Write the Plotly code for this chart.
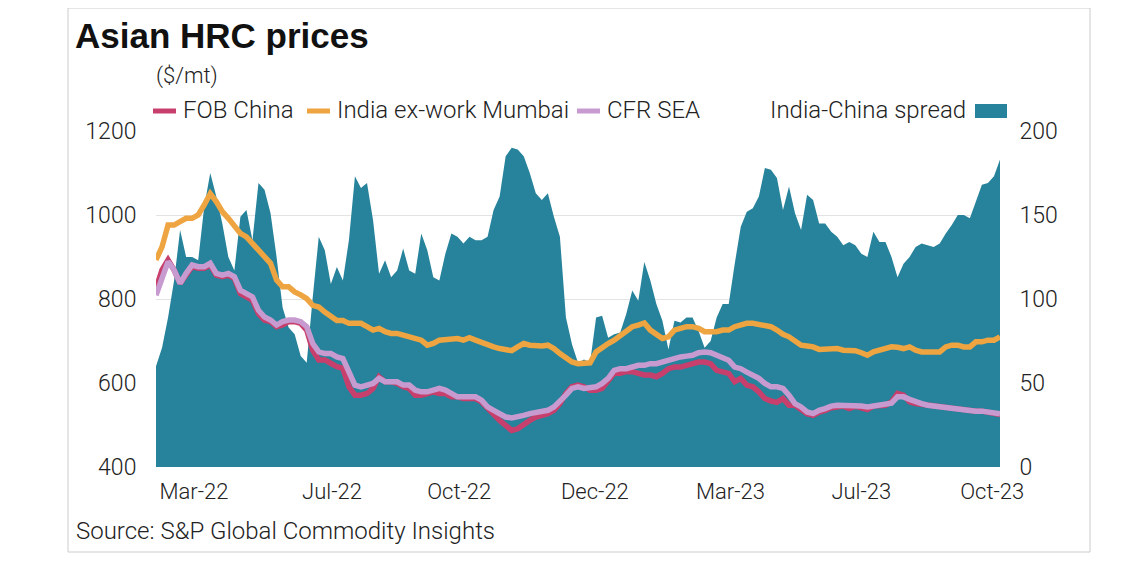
import plotly.graph_objects as go

# readings along the chart, one value every ~6 px (left: $/mt, right: spread)
fob_china = [
    825, 869, 893, 869, 837, 857, 877, 873, 873, 881, 857, 853, 857, 849, 813, 805, 797, 765, 750, 746, 734, 738, 746, 746,
    742, 726, 678, 655, 655, 647, 639, 635, 591, 571, 571, 575, 587, 615, 603, 603, 599, 591, 587, 571, 571, 575, 579, 575,
    575, 567, 567, 563, 563, 563, 555, 539, 523, 511, 499, 487, 491, 503, 511, 519, 523, 527, 535, 551, 575, 591, 595, 591,
    583, 583, 587, 603, 623, 623, 627, 627, 623, 619, 619, 615, 623, 634, 638, 638, 642, 646, 650, 650, 646, 630, 627, 623, 603,
    611, 595, 591, 579, 563, 557, 554, 563, 547, 547, 535, 527, 523, 531, 535, 541, 543, 545, 539, 545, 541, 537, 545, 547,
    547, 555, 575, 571, 555, 551, 549, 547, 545, 543, 541, 539, 537, 537, 535, 533, 533, 531, 529, 525,
]
india_mumbai = [
    893, 924, 976, 976, 984, 992, 992, 1000, 1024, 1051, 1032, 1008, 992, 972, 956, 948, 932, 920, 904, 885, 845, 829, 829, 817,
    810, 801, 785, 781, 769, 757, 749, 749, 742, 742, 742, 734, 726, 730, 722, 718, 718, 714, 710, 706, 702, 690, 694, 702,
    704, 704, 706, 702, 708, 702, 696, 690, 686, 682, 680, 677, 686, 694, 690, 688, 688, 690, 682, 670, 658, 650, 646, 648,
    648, 674, 686, 694, 702, 714, 722, 734, 738, 743, 726, 714, 706, 710, 726, 730, 734, 734, 730, 722, 722, 722, 726, 726, 734,
    738, 742, 742, 740, 738, 734, 726, 716, 710, 698, 690, 688, 686, 680, 680, 682, 682, 678, 677, 677, 672, 666, 674, 678,
    682, 686, 685, 682, 686, 678, 674, 674, 674, 674, 686, 690, 690, 686, 686, 698, 698, 702, 702, 710,
]
cfr_sea = [
    809, 853, 889, 869, 837, 861, 881, 877, 877, 885, 861, 857, 861, 853, 821, 813, 805, 773, 757, 750, 738, 746, 750, 750,
    746, 734, 694, 674, 670, 670, 662, 658, 623, 595, 591, 595, 599, 611, 603, 603, 603, 595, 595, 583, 579, 579, 583, 587,
    583, 575, 567, 567, 567, 567, 559, 543, 535, 527, 519, 517, 519, 523, 527, 529, 531, 535, 543, 555, 571, 587, 591, 587,
    589, 591, 599, 611, 630, 634, 634, 638, 642, 642, 646, 646, 650, 656, 658, 662, 664, 666, 672, 674, 672, 666, 662, 654, 638,
    634, 626, 618, 611, 599, 591, 591, 587, 571, 551, 543, 531, 527, 535, 539, 545, 547, 547, 547, 547, 545, 543, 545, 547,
    547, 552, 567, 567, 561, 555, 551, 547, 545, 543, 541, 539, 537, 537, 535, 533, 533, 531, 531, 527,
]
spread = [
    60, 71, 89, 111, 141, 125, 125, 123, 155, 175, 161, 145, 125, 117, 149, 153, 135, 169, 165, 151, 125, 95, 83, 79,
    66, 62, 101, 137, 129, 109, 119, 111, 135, 173, 166, 169, 147, 115, 123, 113, 117, 130, 117, 115, 139, 129, 113, 111,
    127, 139, 137, 133, 137, 135, 135, 137, 153, 161, 185, 190, 189, 185, 175, 163, 159, 163, 149, 137, 89, 73, 62, 64,
    62, 89, 90, 77, 79, 80, 91, 105, 99, 122, 111, 97, 87, 70, 87, 86, 89, 89, 81, 71, 75, 89, 97, 97, 121,
    143, 152, 154, 161, 178, 177, 172, 153, 167, 151, 141, 162, 159, 145, 145, 140, 137, 132, 134, 132, 127, 125, 140, 134,
    134, 125, 113, 121, 125, 131, 133, 132, 131, 133, 139, 144, 150, 150, 148, 158, 168, 169, 173, 183,
]
month_labels = ["Mar-22", "Jul-22", "Oct-22", "Dec-22", "Mar-23", "Jul-23", "Oct-23"]
label_pos = [6.3, 29.2, 50.3, 72.8, 95.3, 117, 138.7]

x = list(range(len(spread)))

TEAL = "#26839b"
RED = "#c7406d"
ORANGE = "#eea441"
PINK = "#c89bd0"
FONT = "Roboto"
TXT = "#222222"

# the page body adds an 8 px margin, so the figure is drawn 8 px smaller / shifted
OFF = 8
W, H = 1147 - 2 * OFF, 573 - 2 * OFF
# plot area in window pixels: x 156..1000, y 131..467
L, R, T, B = 156, 1000, 131, 467


def px(p):
    return (p - L) / (R - L)


def py(p):
    return (B - p) / (B - T)


fig = go.Figure()
fig.add_trace(go.Scatter(x=x, y=spread, name="India-China spread", yaxis="y",
                         fill="tozeroy", fillcolor=TEAL, mode="lines",
                         line=dict(width=0, color=TEAL)))
fig.add_trace(go.Scatter(x=x, y=fob_china, name="FOB China", mode="lines", yaxis="y2",
                         line=dict(color=RED, width=5.5)))
fig.add_trace(go.Scatter(x=x, y=cfr_sea, name="CFR SEA", mode="lines", yaxis="y2",
                         line=dict(color=PINK, width=5.5)))
fig.add_trace(go.Scatter(x=x, y=india_mumbai, name="India ex-work Mumbai", mode="lines", yaxis="y2",
                         line=dict(color=ORANGE, width=5.5)))

shapes = [
    # card border
    dict(type="rect", xref="paper", yref="paper", x0=px(68), x1=px(1090), y0=py(552), y1=py(8),
         line=dict(color="#cccccc", width=1), fillcolor="rgba(0,0,0,0)", layer="below"),
]
text_font = dict(family=FONT, size=24, color=TXT, weight=300)
annotations = [
    dict(text="<b>Asian HRC prices</b>", x=px(73), y=py(36), xanchor="left", yanchor="middle",
         font=dict(family="Liberation Sans", size=35, color="#111111")),
    dict(text="($/mt)", x=px(154), y=py(76), xanchor="left", yanchor="middle",
         font=dict(family=FONT, size=22, color=TXT, weight=300)),
    dict(text="Source: S&P Global Commodity Insights", x=px(74), y=py(531), xanchor="left", yanchor="middle",
         font=text_font),
]

legend_items = [("FOB China", RED, 153), ("India ex-work Mumbai", ORANGE, 307), ("CFR SEA", PINK, 577)]
for name, col, x0 in legend_items:
    shapes.append(dict(type="line", xref="paper", yref="paper", x0=px(x0), x1=px(x0 + 23),
                       y0=py(111), y1=py(111), line=dict(color=col, width=5)))
    annotations.append(dict(text=name, x=px(x0 + 28), y=py(110), xanchor="left", yanchor="middle",
                            font=text_font))
shapes.append(dict(type="rect", xref="paper", yref="paper", x0=px(975), x1=px(1007),
                   y0=py(118), y1=py(104), line=dict(width=0), fillcolor=TEAL))
annotations.append(dict(text="India-China spread", x=px(968), y=py(110), xanchor="right", yanchor="middle",
                        font=text_font))

for a in annotations:
    a.update(xref="paper", yref="paper", showarrow=False)

fig.update_layout(
    width=W, height=H,
    margin=dict(l=L - OFF, r=W - (R - OFF), t=T - OFF, b=H - (B - OFF), autoexpand=False),
    paper_bgcolor="white", plot_bgcolor="white",
    showlegend=False,
    font=dict(family=FONT, size=22, color=TXT),
    xaxis=dict(range=[0, len(spread) - 1], tickvals=label_pos, ticktext=month_labels,
               showgrid=False, zeroline=False, showline=False,
               ticks="outside", ticklen=5, tickcolor="rgba(0,0,0,0)",
               tickfont=dict(family=FONT, size=22, color=TXT, weight=300)),
    # spread axis sits underneath, so its grid is hidden by the area like in the original
    yaxis=dict(range=[0, 200], tickvals=[0, 50, 100, 150, 200], side="right",
               showgrid=True, gridcolor="#e3e3e3", gridwidth=1, zeroline=False,
               ticks="outside", ticklen=14, tickcolor="rgba(0,0,0,0)",
               tickfont=dict(family=FONT, size=23, color=TXT, weight=300)),
    yaxis2=dict(range=[400, 1200], tickvals=[400, 600, 800, 1000, 1200], overlaying="y", side="left",
                showgrid=False, zeroline=False,
                ticks="outside", ticklen=14, tickcolor="rgba(0,0,0,0)",
                tickfont=dict(family=FONT, size=23, color=TXT, weight=300)),
    shapes=shapes,
    annotations=annotations,
)

fig.write_html("out.html")
